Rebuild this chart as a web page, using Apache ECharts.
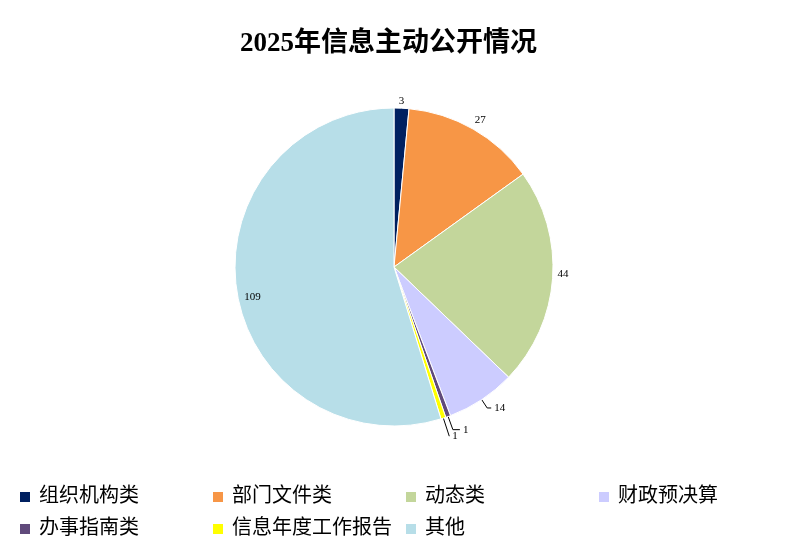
<!DOCTYPE html>
<html>
<head>
<meta charset="utf-8">
<script src="https://cdn.jsdelivr.net/npm/echarts@6/dist/echarts.min.js"></script>
<style>
  html, body { margin: 0; padding: 0; background: #fff; }
  #main { width: 800px; height: 554px; }
</style>
</head>
<body>
<div id="main"></div>
<script>
var categories = ['组织机构类', '部门文件类', '动态类', '财政预决算', '办事指南类', '信息年度工作报告', '其他'];
var counts = [3, 27, 44, 14, 1, 1, 109];
var colors = ['#002060', '#F79646', '#C3D69B', '#CCCCFF', '#604A7B', '#FFFF00', '#B7DEE8'];

var serif = "'Liberation Serif', 'Times New Roman', 'Noto Sans CJK SC', serif";

var chart = echarts.init(document.getElementById('main'));

// leader line lengths per slice; null = no line drawn
var lineLen = [null, null, null, [10, 4], [14, 7], [19, 0], null];

var pieData = [];
for (var i = 0; i < categories.length; i++) {
    var item = {
        name: categories[i],
        value: counts[i],
        itemStyle: { color: colors[i] }
    };
    if (lineLen[i]) {
        item.labelLine = { show: true, length: lineLen[i][0], length2: lineLen[i][1] };
    } else {
        item.labelLine = { show: false, length: 3, length2: 0 };
    }
    pieData.push(item);
}

// nudges for the labels without a leader line
var labelShift = {
    0: { dx: -6, dy: -4 },
    1: { dx: -3, dy: -6 },
    2: { dx: -1, dy: -4 },
    6: { dx: 30, dy: 6 }
};

chart.setOption({
    animation: false,
    title: {
        text: '2025年信息主动公开情况',
        left: 235,
        top: 26,
        textStyle: {
            fontFamily: serif,
            fontSize: 27,
            fontWeight: 'bold',
            color: '#000'
        }
    },
    legend: {
        data: categories,
        left: 13,
        top: 482,
        width: 785,
        orient: 'horizontal',
        itemWidth: 12,
        itemHeight: 12,
        itemGap: 12,
        icon: 'rect',
        textStyle: {
            fontFamily: serif,
            fontSize: 20,
            color: '#000',
            width: 160,
            lineHeight: 20,
            padding: [0, 0, 0, 3]
        }
    },
    series: [{
        type: 'pie',
        center: [394, 267],
        radius: [0, 159],
        startAngle: 90,
        clockwise: true,
        avoidLabelOverlap: false,
        itemStyle: {
            borderColor: '#fff',
            borderWidth: 1
        },
        label: {
            show: true,
            position: 'outside',
            formatter: '{c}',
            fontFamily: serif,
            fontSize: 11,
            color: '#000',
            distanceToLabelLine: 3
        },
        labelLine: {
            lineStyle: { color: '#000', width: 1 }
        },
        labelLayout: function (p) {
            return labelShift[p.dataIndex] || {};
        },
        data: pieData
    }]
});
</script>
</body>
</html>
